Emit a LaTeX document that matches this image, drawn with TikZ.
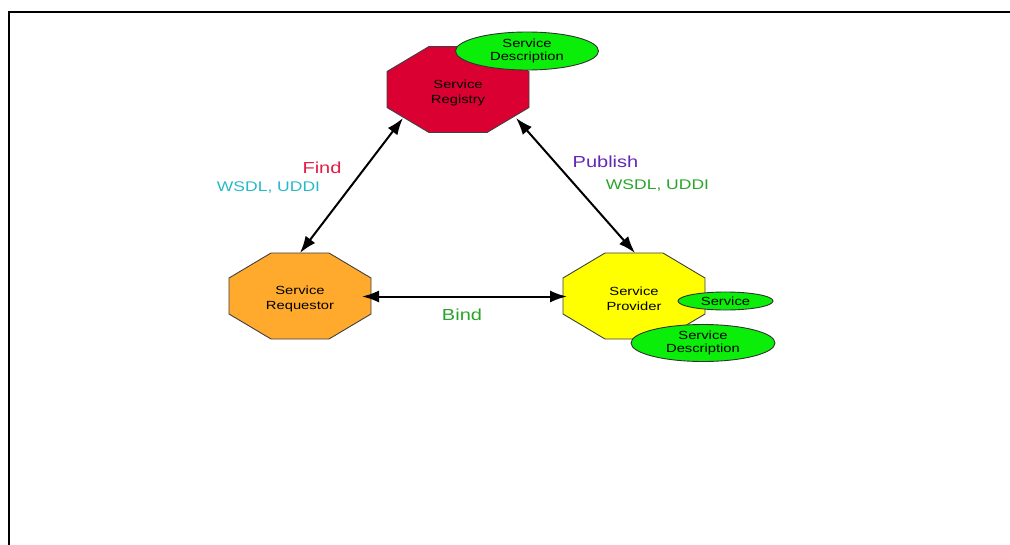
\documentclass[tikz,border=0pt]{standalone}
\usepackage{fontspec}
\setmainfont{Liberation Sans}
\newfontfamily\diagfont[FakeStretch=1.25]{Liberation Sans}
\usetikzlibrary{arrows.meta,shapes.geometric}

\definecolor{regred}{RGB}{218,0,50}
\definecolor{reqorange}{RGB}{255,170,45}
\definecolor{provyellow}{RGB}{255,255,0}
\definecolor{descgreen}{RGB}{10,238,10}
\definecolor{findred}{RGB}{228,30,70}
\definecolor{wsdlcyan}{RGB}{40,185,200}
\definecolor{pubpurple}{RGB}{100,40,185}
\definecolor{labgreen}{RGB}{40,165,40}

% octagon outline centred at (#2,#3), filled with #1
\newcommand\octagonshape[3]{%
  \draw[octline,fill=#1,shift={(#2,#3)}]
    (-29,-43) -- (29,-43) -- (71,-18) -- (71,18) -- (29,43)
    -- (-29,43) -- (-71,18) -- (-71,-18) -- cycle;}

\begin{document}
\begin{tikzpicture}[x=1pt,y=-1pt,
  octline/.style={draw=black!75,line width=0.9pt},
  nodetext/.style={align=center,inner sep=0pt,
    font=\diagfont\fontsize{11.8}{15}\selectfont},
  svcell/.style={ellipse,draw=black!80,line width=0.9pt,fill=descgreen,
    align=center,inner sep=0pt,font=\diagfont\fontsize{11.8}{13.5}\selectfont},
  conn/.style={line width=2pt,
    {Latex[length=17pt,width=12pt]}-{Latex[length=17pt,width=12pt]}},
  biglabel/.style={inner sep=0pt,font=\diagfont\fontsize{16}{18}\selectfont},
  smalllabel/.style={inner sep=0pt,font=\diagfont\fontsize{14}{16}\selectfont}]
\useasboundingbox (0,0) rectangle (1010,544);
\fill[white] (0,0) rectangle (1010,544);

% page frame, running off the right and bottom edges
\coordinate (frameBL) at (9,560);
\coordinate (frameTL) at (9,12);
\coordinate (frameTR) at (1030,12);
\draw[line width=2.4pt] (frameBL) -- (frameTL) -- (frameTR);

% the three roles
\octagonshape{regred}{458}{89.5}
\node[nodetext] (registry) at (458,93) {Service\\Registry};
\octagonshape{reqorange}{300}{296}
\node[nodetext] (requestor) at (300,299) {Service\\Requestor};
\octagonshape{provyellow}{634}{296}
\node[nodetext] (provider) at (634,299) {Service\\Provider};

% artefacts held by the registry and the provider
\node[svcell,minimum width=143pt,minimum height=38pt] (regdesc) at (527,51) {Service\\Description};
\node[svcell,minimum width=95pt,minimum height=18pt] (provsvc) at (725.5,301) {Service};
\node[svcell,minimum width=144pt,minimum height=37pt] (provdesc) at (703,343) {Service\\Description};

% connector ends on the octagon borders
\coordinate (regFind) at (403,118);
\coordinate (reqTop) at (300,253);
\coordinate (regPub) at (516,118);
\coordinate (provTop) at (635,253);
\coordinate (reqRight) at (362,296.5);
\coordinate (provLeft) at (567,296.5);

\draw[conn] (regFind) -- (reqTop);
\draw[conn] (regPub) -- (provTop);
\draw[conn] (reqRight) -- (provLeft);

% operation labels
\node[biglabel,text=findred] (findlab) at (322,168) {Find};
\node[smalllabel,text=wsdlcyan] (findproto) at (268.5,188) {WSDL, UDDI};
\node[biglabel,text=pubpurple] (publab) at (605.5,162) {Publish};
\node[smalllabel,text=labgreen] (pubproto) at (657.5,185.5) {WSDL, UDDI};
\node[biglabel,text=labgreen] (bindlab) at (462,315) {Bind};
\end{tikzpicture}
\end{document}
